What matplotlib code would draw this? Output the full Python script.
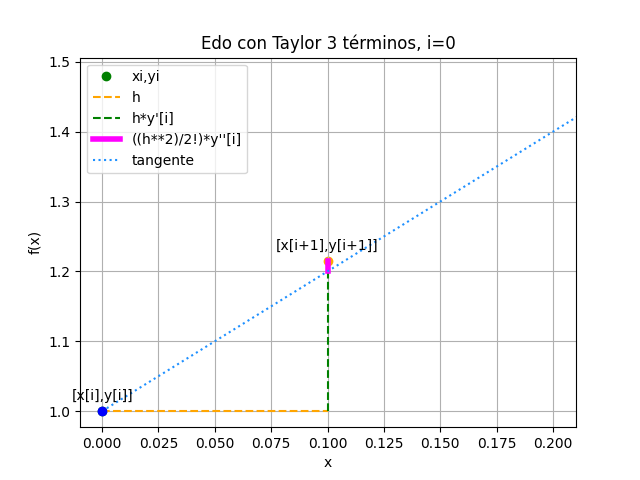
import matplotlib
matplotlib.use("Agg")
import matplotlib.pyplot as plt
import numpy as np

xi, yi = 0.0, 1.0
h = 0.1
d1 = 2.0
d2 = 3.0
x1 = xi + h
yt = yi + h*d1
y1 = yt + (h**2/2)*d2
tx = [0.0, 0.25]
ty = [yi + d1*(t - xi) for t in tx]

fig, ax = plt.subplots(figsize=(6.4, 4.8), dpi=100)
ax.plot(xi, yi, 'o', color='green', label='xi,yi')
ax.plot([xi, x1], [yi, yi], '--', color='orange', label='h')
ax.plot([x1, x1], [yi, yt], '--', color='green', label="h*y'[i]")
ax.plot([x1, x1], [yt, y1], '-', color='magenta', linewidth=4, label="((h**2)/2!)*y''[i]")
ax.plot(tx, ty, ':', color='dodgerblue', label='tangente')
ax.plot(xi, yi, 'o', color='blue')
ax.plot(x1, y1, 'o', color='orange', zorder=1)
ax.text(xi, yi + 0.012, '[x[i],y[i]]', ha='center', va='bottom')
ax.text(x1, y1 + 0.012, '[x[i+1],y[i+1]]', ha='center', va='bottom')
ax.set_xlim(-0.0098, 0.2102)
ax.set_ylim(0.977, 1.506)
ax.set_title('Edo con Taylor 3 términos, i=0')
ax.set_xlabel('x')
ax.set_ylabel('f(x)')
ax.grid(True)
ax.legend(loc='upper left')
fig.savefig('out.png')
